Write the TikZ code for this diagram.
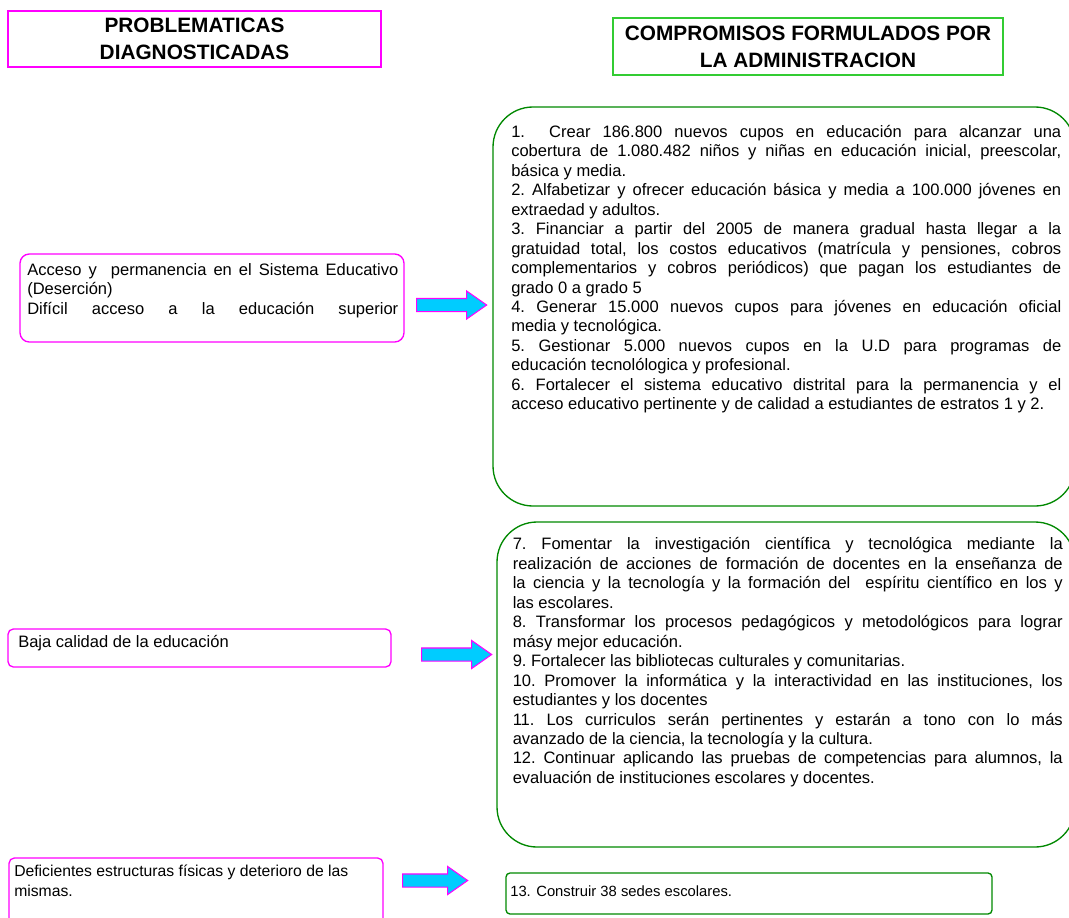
\documentclass[tikz,border=0pt]{standalone}
\usepackage{fontspec}
\setmainfont{Liberation Sans}
\usetikzlibrary{shapes.arrows}

\definecolor{magborde}{RGB}{255,0,255}
\definecolor{verdetit}{RGB}{51,204,51}
\definecolor{verdecaja}{RGB}{0,136,0}
\definecolor{cianflecha}{RGB}{0,204,255}

\tikzset{
  titulo/.style={draw, line width=1pt, inner sep=0pt, align=center,
    font=\fontsize{15.6}{20.25}\selectfont\bfseries},
  problema/.style={draw=magborde, line width=1pt, inner sep=0pt},
  compromiso/.style={draw=verdecaja, line width=1pt, inner sep=0pt},
  texto/.style={font=\fontsize{12.4}{14.6}\selectfont\frenchspacing, text width=#1,
    align=justify, inner sep=0pt, anchor=north west},
  textochico/.style={texto=#1, font=\fontsize{11.8}{14.6}\selectfont\frenchspacing},
  flecha/.style={single arrow, draw=magborde, fill=cianflecha, line width=0.8pt,
    inner sep=0pt, inner ysep=4.5pt, single arrow head extend=5.6pt,
    single arrow tip angle=70}
}

\begin{document}
\begin{tikzpicture}[x=0.75pt, y=-0.75pt]
\useasboundingbox (0,0) rectangle (1069,917);
\clip (0,0) rectangle (1069,917);

% titles
\node[titulo, draw=magborde, minimum width=279.75pt, minimum height=42pt] (tprob) at (194.5,39)
  {PROBLEMATICAS\\DIAGNOSTICADAS};
\node[titulo, draw=verdetit, minimum width=292.5pt, minimum height=42.75pt] (tcomp) at (808,46.5)
  {COMPROMISOS FORMULADOS POR\\LA ADMINISTRACION};

% problems
\node[problema, rounded corners=7pt, minimum width=288pt, minimum height=66pt] (prob1) at (212,298) {};
\node[texto=278.25pt] (prob1txt) at (27,261.5) {%
  \strut Acceso y\ \ permanencia en el Sistema Educativo\linebreak
  (Deserción)\newline
  Difícil acceso a la educación superior\linebreak\mbox{}};

\node[problema, rounded corners=4pt, minimum width=287.25pt, minimum height=28.5pt] (prob2) at (199.5,648) {};
\node[texto=270pt] (prob2txt) at (18,634) {\strut Baja calidad de la educación};

\node[problema, rounded corners=4pt, minimum width=280.5pt, minimum height=57.75pt] (prob3) at (196,896.5) {};
\node[textochico=275pt] (prob3txt) at (14,863) {%
  \strut Deficientes estructuras físicas y deterioro de las\newline
  mismas.};

% arrows
\node[flecha, minimum height=52.5pt] (fle1) at (447,305) {};
\node[flecha, minimum height=52.5pt] (fle2) at (452,654.5) {};
\node[flecha, minimum height=48.75pt] (fle3) at (430.5,880.5) {};

% commitments
\node[compromiso, rounded corners=30pt, minimum width=436.5pt, minimum height=299.25pt] (comp1) at (784,306.5) {};
\node[texto=412.5pt] (comp1txt) at (511,123.4) {%
  \strut 1.\ \ Crear 186.800 nuevos cupos en educación para alcanzar una\linebreak
  cobertura de 1.080.482 niños y niñas en educación inicial, preescolar,\linebreak
  básica y media.\newline
  2. Alfabetizar y ofrecer educación básica y media a 100.000 jóvenes en\linebreak
  extraedad y adultos.\newline
  3. Financiar a partir del 2005 de manera gradual hasta llegar a la\linebreak
  gratuidad total, los costos educativos (matrícula y pensiones, cobros\linebreak
  complementarios y cobros periódicos) que pagan los estudiantes de\linebreak
  grado 0 a grado 5\newline
  4. Generar 15.000 nuevos cupos para jóvenes en educación oficial\linebreak
  media y tecnológica.\newline
  5. Gestionar 5.000 nuevos cupos en la U.D para programas de\linebreak
  educación tecnolólogica y profesional.\newline
  6. Fortalecer el sistema educativo distrital para la permanencia y el\linebreak
  acceso educativo pertinente y de calidad a estudiantes de estratos 1 y 2.};

\node[compromiso, rounded corners=30pt, minimum width=433.5pt, minimum height=243.75pt] (comp2) at (786,684.5) {};
\node[texto=412.5pt] (comp2txt) at (512.5,535.9) {%
  \strut 7. Fomentar la investigación científica y tecnológica mediante la\linebreak
  realización de acciones de formación de docentes en la enseñanza de\linebreak
  la ciencia y la tecnología y la formación del\ \ espíritu científico en los y\linebreak
  las escolares.\newline
  8. Transformar los procesos pedagógicos y metodológicos para lograr\linebreak
  másy mejor educación.\newline
  9. Fortalecer las bibliotecas culturales y comunitarias.\newline
  10. Promover la informática y la interactividad en las instituciones, los\linebreak
  estudiantes y los docentes\newline
  11. Los curriculos serán pertinentes y estarán a tono con lo más\linebreak
  avanzado de la ciencia, la tecnología y la cultura.\newline
  12. Continuar aplicando las pruebas de competencias para alumnos, la\linebreak
  evaluación de instituciones escolares y docentes.};

\node[compromiso, rounded corners=3pt, minimum width=364.5pt, minimum height=30.75pt] (comp3) at (749,893.5) {};
\node[textochico=350pt, font=\fontsize{11.1}{14.6}\selectfont] (comp3txt) at (510,883) {\strut 13. Construir 38 sedes escolares.};
\end{tikzpicture}
\end{document}
